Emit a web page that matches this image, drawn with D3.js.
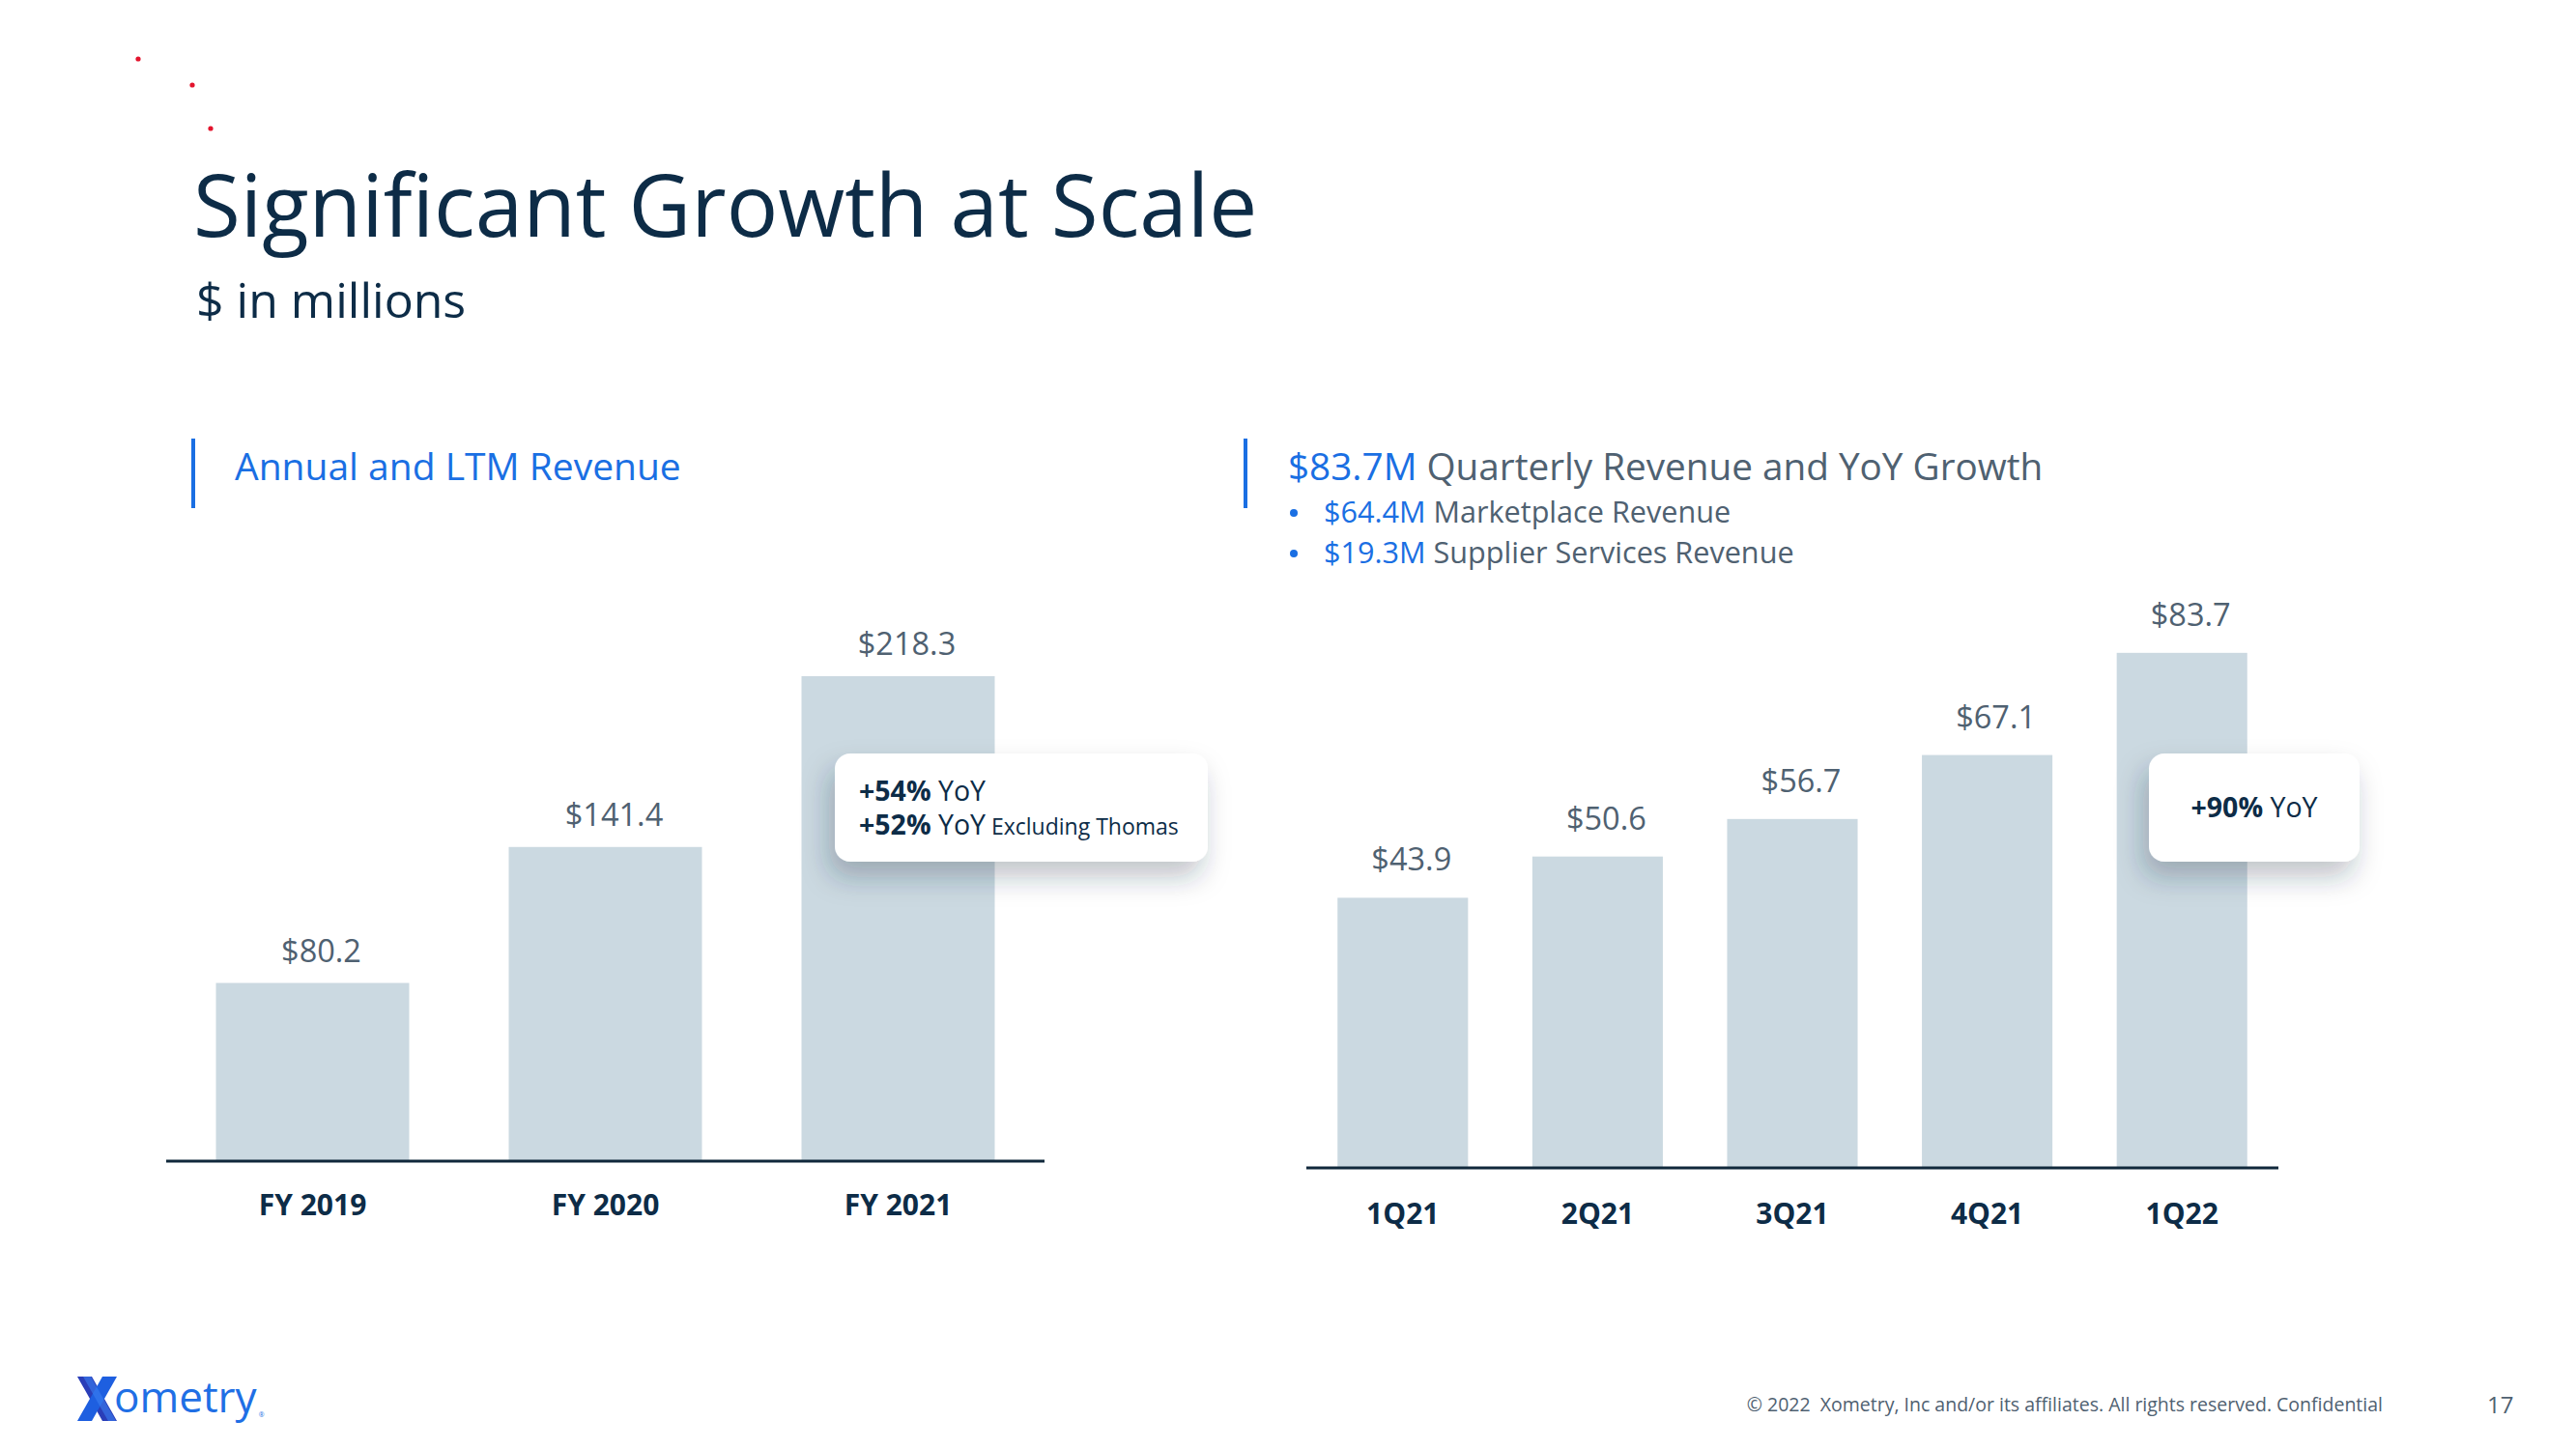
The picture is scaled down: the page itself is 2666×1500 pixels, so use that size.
<!DOCTYPE html>
<html>
<head>
<meta charset="utf-8">
<script src="https://cdn.jsdelivr.net/npm/d3@7/dist/d3.min.js"></script>
<style>
  html, body { margin: 0; padding: 0; background: #ffffff; }
  svg { display: block; }
  text { font-family: "Open Sans", "Noto Sans", sans-serif; white-space: pre; }
</style>
</head>
<body>
<svg id="chart" width="2666" height="1500"></svg>
<script>
// ---- Data ----
const annualCategories = ["FY 2019", "FY 2020", "FY 2021"];
const annualValues = [80.2, 141.4, 218.3];
const quarterCategories = ["1Q21", "2Q21", "3Q21", "4Q21", "1Q22"];
const quarterValues = [43.9, 50.6, 56.7, 67.1, 83.7];
const leftTitle = "Annual and LTM Revenue";
const rightTitleValue = "$83.7M";
const rightTitleText = " Quarterly Revenue and YoY Growth";
const bulletValues = ["$64.4M", "$19.3M"];
const bulletTexts = [" Marketplace Revenue", " Supplier Services Revenue"];
const annualCallout = [["+54%", " YoY", ""], ["+52%", " YoY", " Excluding Thomas"]];
const quarterCallout = ["+90%", " YoY"];

// ---- Styles ----
const NAVY = "#0d2c47";
const GRAY = "#4f6171";
const BLUE = "#1a6fe3";
const BAR = "#cbd9e1";

const svg = d3.select("#chart");

const defs = svg.append("defs");
const f = defs.append("filter").attr("id", "shadow")
  .attr("x", "-30%").attr("y", "-40%").attr("width", "160%").attr("height", "200%");
f.append("feDropShadow").attr("dx", -6).attr("dy", 16).attr("stdDeviation", 14)
  .attr("flood-color", "#1f2f3f").attr("flood-opacity", 0.28);

// ---- Decorative red dots ----
[[143, 61], [199, 88], [218, 133]].forEach(([cx, cy]) =>
  svg.append("circle").attr("cx", cx).attr("cy", cy).attr("r", 2.6).attr("fill", "#e3142d"));

// ---- Titles ----
svg.append("text").attr("x", 200).attr("y", 245)
  .attr("font-size", 89).attr("fill", NAVY).text("Significant Growth at Scale");
svg.append("text").attr("x", 203).attr("y", 329)
  .attr("font-size", 50).attr("fill", NAVY).text("$ in millions");

// Section headers
svg.append("rect").attr("x", 198).attr("y", 454).attr("width", 4).attr("height", 72).attr("fill", BLUE);
svg.append("text").attr("x", 243).attr("y", 497).attr("font-size", 39).attr("fill", BLUE).text(leftTitle);

svg.append("rect").attr("x", 1287).attr("y", 454).attr("width", 4).attr("height", 72).attr("fill", BLUE);
const rt = svg.append("text").attr("x", 1333).attr("y", 497).attr("font-size", 38.7);
rt.append("tspan").attr("fill", BLUE).text(rightTitleValue);
rt.append("tspan").attr("fill", GRAY).text(rightTitleText);

bulletValues.forEach((v, i) => {
  const y = 541 + i * 42;
  svg.append("circle").attr("cx", 1339).attr("cy", y - 10).attr("r", 4).attr("fill", BLUE);
  const t = svg.append("text").attr("x", 1370).attr("y", y).attr("font-size", 30.6);
  t.append("tspan").attr("fill", BLUE).text(v);
  t.append("tspan").attr("fill", GRAY).text(bulletTexts[i]);
});

// ---- Chart builder ----
function barChart(opts) {
  const x = d3.scaleBand().domain(opts.categories).range(opts.xRange)
    .paddingInner(opts.pi).paddingOuter(opts.po);
  const y = d3.scaleLinear().domain(opts.yDomain).range(opts.yRange);
  const g = svg.append("g");
  const data = opts.categories.map((c, i) => ({ c, v: opts.values[i] }));

  g.selectAll("rect.bar").data(data).join("rect")
    .attr("class", "bar")
    .attr("x", d => x(d.c)).attr("width", x.bandwidth())
    .attr("y", d => y(d.v)).attr("height", d => y(0) - y(d.v))
    .attr("fill", BAR);

  g.selectAll("text.val").data(data).join("text")
    .attr("class", "val")
    .attr("x", d => x(d.c) + x.bandwidth() / 2 + 9)
    .attr("y", d => y(d.v) - opts.labelGap)
    .attr("text-anchor", "middle").attr("font-size", 32.5).attr("fill", GRAY)
    .text(d => "$" + d.v.toFixed(1));

  const axis = d3.axisBottom(x).tickSize(0).tickPadding(opts.tickPad).tickSizeOuter(0);
  const ag = g.append("g").attr("transform", `translate(0,${y(0)})`).call(axis);
  ag.select(".domain").attr("stroke", "#10283b").attr("stroke-width", 3)
    .attr("d", `M${opts.xRange[0]},0H${opts.xRange[1]}`);
  ag.selectAll(".tick text").attr("font-family", '"Open Sans", sans-serif')
    .attr("font-size", 30).attr("font-weight", 700).attr("fill", NAVY);
  return { x, y, g };
}

const left = barChart({
  categories: annualCategories, values: annualValues,
  xRange: [172, 1081], pi: 0.34, po: 0.17,
  yDomain: [0, 250], yRange: [1202, 627],
  labelGap: 22, tickPad: 35
});

const right = barChart({
  categories: quarterCategories, values: quarterValues,
  xRange: [1352, 2358], pi: 0.33, po: 0.16,
  yDomain: [0, 100], yRange: [1209, 572],
  labelGap: 28, tickPad: 37
});

// ---- Callouts ----
function callout(x, y, w, h) {
  svg.append("rect").attr("x", x).attr("y", y).attr("width", w).attr("height", h)
    .attr("rx", 16).attr("fill", "#ffffff").attr("filter", "url(#shadow)");
}
callout(864, 780, 386, 112);
annualCallout.forEach((parts, i) => {
  const t = svg.append("text").attr("x", 889).attr("y", 829 + i * 35)
    .attr("font-family", "Lato, sans-serif").attr("fill", NAVY);
  t.append("tspan").attr("font-size", 28.5).attr("font-weight", 700).text(parts[0]);
  t.append("tspan").attr("font-size", 28.5).attr("font-weight", 400).text(parts[1]);
  if (parts[2]) t.append("tspan").attr("font-size", 23).attr("font-weight", 400).text(parts[2]);
});

callout(2224, 780, 218, 112);
const qt = svg.append("text").attr("x", 2333).attr("y", 846).attr("text-anchor", "middle")
  .attr("font-family", "Lato, sans-serif").attr("fill", NAVY).attr("font-size", 28.5);
qt.append("tspan").attr("font-weight", 700).text(quarterCallout[0]);
qt.append("tspan").attr("font-weight", 400).text(quarterCallout[1]);

// ---- Footer ----
const logo = svg.append("g").attr("transform", "translate(80,1425)");
logo.append("path").attr("d", "M0,0 L15,0 L41,46 L26,46 Z").attr("fill", "#2a3eb8");
logo.append("path").attr("d", "M26,0 L41,0 L15,46 L0,46 Z").attr("fill", "#1e5fe0");
logo.append("path").attr("d", "M6,0 L14,0 L40,46 L32,46 Z").attr("fill", "#3b7ef0").attr("opacity", 0.6);
const lt = logo.append("text").attr("x", 38).attr("y", 37).attr("font-family", "Lato, sans-serif")
  .attr("font-size", 44).attr("fill", "#1f6fe5").text("ometry");
const ltW = lt.node().getComputedTextLength();
logo.append("text").attr("x", 38 + ltW + 2).attr("y", 42).attr("font-size", 7).attr("fill", "#1f6fe5").text("®");

svg.append("text").attr("x", 2466).attr("y", 1461).attr("text-anchor", "end")
  .attr("font-size", 19.5).attr("fill", GRAY)
  .text("© 2022  Xometry, Inc and/or its affiliates. All rights reserved. Confidential");
svg.append("text").attr("x", 2574).attr("y", 1463)
  .attr("font-size", 24).attr("fill", GRAY).text("17");
</script>
</body>
</html>
